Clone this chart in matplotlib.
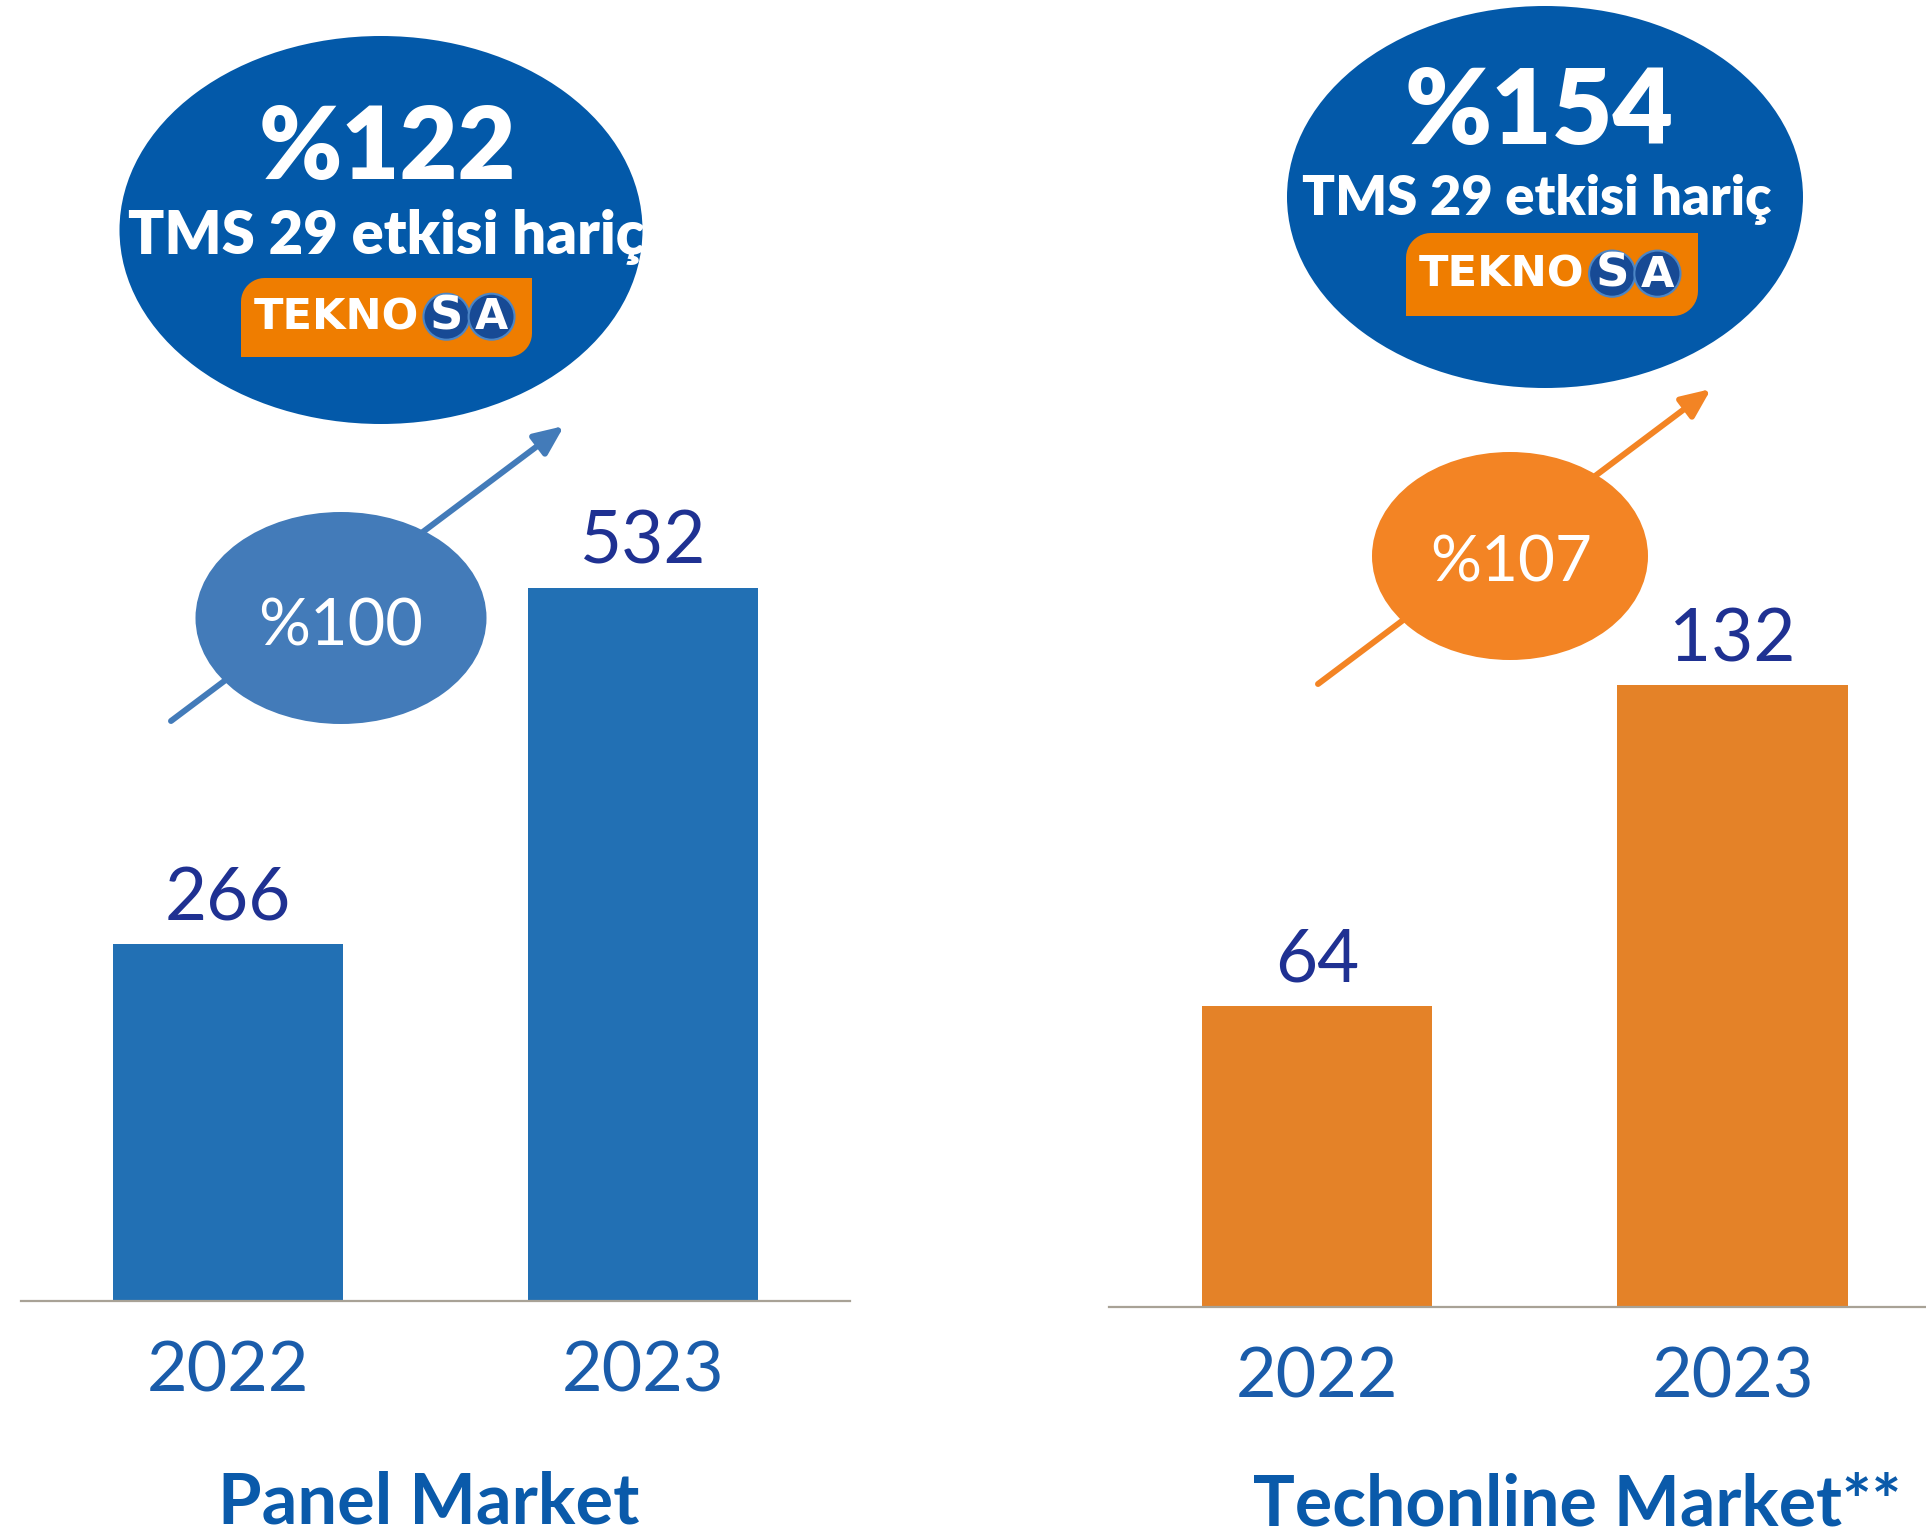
import numpy as np
import matplotlib.pyplot as plt
from matplotlib.patches import Ellipse, Circle, PathPatch, FancyArrowPatch
from matplotlib.path import Path

# veriler
years = ['2022', '2023']
panel_values = [266, 532]
online_values = [64, 132]
growth_labels = ['%100', '%107']
real_growth_labels = ['%122', '%154']
note = 'TMS 29 etkisi hariç'
titles = ['Panel Market', 'Techonline Market**']

W, H = 1926, 1536
BIG = '#0359A9'
GROW_COLORS = ['#437BB9', '#F38424']
BAR_COLORS = ['#2270B4', '#E48228']
VAL = '#1F3192'
YEAR = '#1A5CAA'
TITLE = '#0A5AAA'
LOGO_OR = '#EF7D00'
BASE = '#A8A296'

NUM = dict(family='Lato', weight='normal')
BOLD = dict(family='Lato', weight='heavy')

fig = plt.figure(figsize=(W / 100, H / 100), dpi=100)
renderer = fig.canvas.get_renderer()


def size_for(s, width, **kw):
    t = fig.text(0, 0, s, fontsize=20, **kw)
    w = t.get_window_extent(renderer).width
    t.remove()
    return 20 * width / w


year_size = size_for('2022', 162, **NUM)
val_size = size_for('532', 126, **NUM)

# bar panelleri: (sol, sag, taban, ust) piksel, px/birim, xlim sag
panels = [
    dict(x0=21, x1=850, base=1301, top=300, scale=1.341, xr=1.5, vals=panel_values),
    dict(x0=1109, x1=1926, base=1307, top=300, scale=4.71, xr=1.465, vals=online_values),
]
for i, p in enumerate(panels):
    ax = fig.add_axes([p['x0'] / W, (H - p['base']) / H,
                       (p['x1'] - p['x0']) / W, (p['base'] - p['top']) / H])
    ax.set_facecolor('none')
    x = np.arange(len(years))
    ax.bar(x, p['vals'], width=0.555, color=BAR_COLORS[i])
    ax.set_xlim(-0.5, p['xr'])
    ax.set_ylim(0, (p['base'] - p['top']) / p['scale'])
    for s in ['top', 'right', 'left']:
        ax.spines[s].set_visible(False)
    ax.spines['bottom'].set_color(BASE)
    ax.spines['bottom'].set_linewidth(1.6)
    ax.set_yticks([])
    ax.set_xticks(x, years)
    ax.tick_params(axis='x', length=0, pad=65, labelsize=year_size, labelcolor=YEAR)
    for lbl in ax.get_xticklabels():
        lbl.set_fontfamily('Lato')
        lbl.set_fontweight('normal')
        lbl.set_va('baseline')
    for xi, v in zip(x, p['vals']):
        ax.annotate(str(v), (xi, v), xytext=(0, 17), textcoords='offset points',
                    ha='center', va='baseline', fontsize=val_size, color=VAL, **NUM)

# ust katman: piksel koordinatlari (y asagi)
ov = fig.add_axes([0, 0, 1, 1], zorder=5)
ov.set_xlim(0, W)
ov.set_ylim(H, 0)
ov.axis('off')
ov.patch.set_alpha(0)


def fit(x, y, s, width, **kw):
    t = ov.text(x, y, s, fontsize=20, **kw)
    w = t.get_window_extent(renderer).width
    t.set_fontsize(20 * width / w)
    return t


def logo(x0, y0, w, h):
    r = 0.3 * h
    t1 = np.linspace(np.pi, 1.5 * np.pi, 12)
    t2 = np.linspace(0, 0.5 * np.pi, 12)
    pts = [(x0 + r + r * np.cos(t), y0 + r + r * np.sin(t)) for t in t1]
    pts += [(x0 + w, y0)]
    pts += [(x0 + w - r + r * np.cos(t), y0 + h - r + r * np.sin(t)) for t in t2]
    pts += [(x0, y0 + h), pts[0]]
    ov.add_patch(PathPatch(Path(pts), facecolor=LOGO_OR, edgecolor='none', zorder=3))
    fit(x0 + 0.045 * w, y0 + 0.65 * h, 'TEKNO', 0.565 * w, family='DejaVu Sans',
        weight='bold', color='white', ha='left', va='baseline', zorder=4)
    rc = 0.079 * w
    for fx, ch in [(0.706, 'S'), (0.861, 'A')]:
        ov.add_patch(Circle((x0 + fx * w, y0 + 0.49 * h), rc, facecolor='#174A95',
                            edgecolor='#4C86C6', lw=1.5, zorder=4))
        fit(x0 + fx * w, y0 + 0.65 * h, ch, 1.45 * rc, family='DejaVu Sans',
            weight='bold', color='white', ha='center', va='baseline', zorder=5)


# buyuk elipsler (TMS 29 etkisi haric)
big = [
    dict(c=(381, 230), w=523, h=388, tx=387, ty=179, tw=258, nx=386, ny=254, nw=518,
         logo=(241, 278, 291, 79)),
    dict(c=(1545, 197), w=516, h=382, tx=1539, ty=144, tw=269, nx=1537, ny=215, nw=470,
         logo=(1406, 233, 292, 83)),
]
for i, b in enumerate(big):
    ov.add_patch(Ellipse(b['c'], b['w'], b['h'], facecolor=BIG, edgecolor='none', zorder=1))
    fit(b['tx'], b['ty'], real_growth_labels[i], b['tw'], color='white',
        ha='center', va='baseline', zorder=4, **BOLD)
    fit(b['nx'], b['ny'], note, b['nw'], color='white', ha='center', va='baseline',
        zorder=4, family='Lato', weight='heavy')
    logo(*b['logo'])

# kucuk elipsler ve oklar
small = [
    dict(c=(341, 618), w=291, h=212, a0=(171, 721), a1=(564, 426), tx=341, ty=645, tw=165),
    dict(c=(1510, 556), w=276, h=208, a0=(1318, 684), a1=(1711, 389), tx=1511, ty=581, tw=162),
]
for i, s in enumerate(small):
    ov.add_patch(FancyArrowPatch(s['a0'], s['a1'],
                                 arrowstyle='-|>,head_length=0.8,head_width=0.35',
                                 mutation_scale=22, color=GROW_COLORS[i], lw=4.3,
                                 shrinkA=0, shrinkB=0, zorder=1))
    ov.add_patch(Ellipse(s['c'], s['w'], s['h'], facecolor=GROW_COLORS[i],
                         edgecolor='none', zorder=2))
    fit(s['tx'], s['ty'], growth_labels[i], s['tw'], color='white',
        ha='center', va='baseline', zorder=4, **NUM)

# alt basliklar
fit(429, 1523, titles[0], 421, color=TITLE, ha='center', va='baseline',
    family='Lato', weight='bold')
fit(1577, 1525, titles[1], 648, color=TITLE, ha='center', va='baseline',
    family='Lato', weight='bold')

fig.savefig('out.png', dpi=100)
